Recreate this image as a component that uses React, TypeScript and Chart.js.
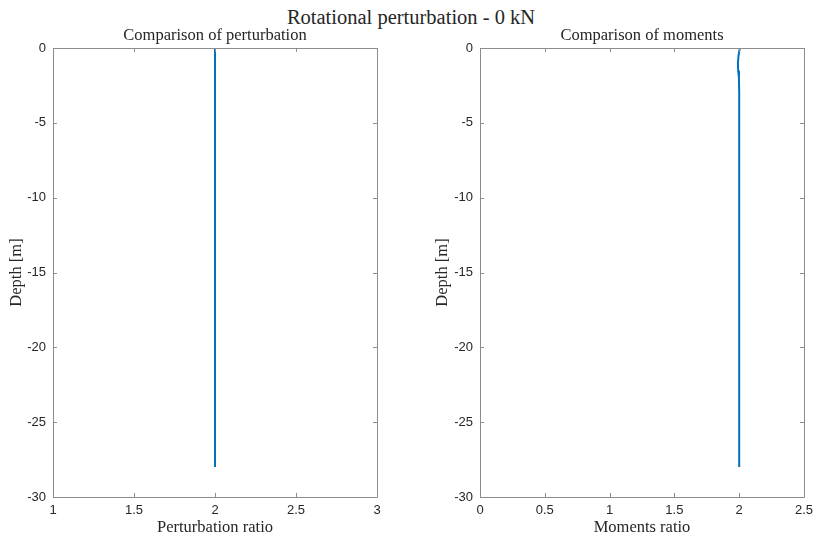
import React, { useEffect, useRef } from "react";
import { Chart, registerables } from "chart.js";

Chart.register(...registerables);

// Depth stations along the pile [m]
const depthPerturbation = [0, -4, -8, -12, -16, -20, -24, -28];
const perturbationRatio = [2, 2, 2, 2, 2, 2, 2, 2];

const depthMoments = [0, -0.5, -1, -1.5, -2, -3, -4, -6, -8, -12, -16, -20, -24, -28];
const momentsRatio = [2.005, 1.995, 1.99, 1.992, 1.998, 2.0, 2.0, 2.0, 2.0, 2.0, 2.0, 2.0, 2.0, 2.0];

const depthTicks = [0, -5, -10, -15, -20, -25, -30];
const perturbationTicks = [1, 1.5, 2, 2.5, 3];
const momentsTicks = [0, 0.5, 1, 1.5, 2, 2.5];

const SERIF = "'Liberation Serif', 'DejaVu Serif', serif";
const SANS = "'Liberation Sans', Arial, sans-serif";
const AXIS_COLOR = "#8c8c8c";
const TEXT_COLOR = "#262626";
const LINE_COLOR = "#0072BD";

// Box around the axes with inward-pointing tick marks on all four sides
const boxTicksPlugin = {
  id: "boxTicks",
  afterDatasetsDraw(chart: any) {
    const { ctx, chartArea } = chart;
    const { left, right, top, bottom } = chartArea;
    const len = 4;
    ctx.save();
    ctx.strokeStyle = AXIS_COLOR;
    ctx.lineWidth = 1;
    ctx.beginPath();
    ctx.rect(Math.round(left) + 0.5, Math.round(top) + 0.5, Math.round(right - left), Math.round(bottom - top));
    const xs = chart.scales.x;
    xs.ticks.forEach((t: any) => {
      const px = Math.round(xs.getPixelForValue(t.value)) + 0.5;
      ctx.moveTo(px, bottom);
      ctx.lineTo(px, bottom - len);
      ctx.moveTo(px, top);
      ctx.lineTo(px, top + len);
    });
    const ys = chart.scales.y;
    ys.ticks.forEach((t: any) => {
      const py = Math.round(ys.getPixelForValue(t.value)) + 0.5;
      ctx.moveTo(left, py);
      ctx.lineTo(left + len, py);
      ctx.moveTo(right, py);
      ctx.lineTo(right - len, py);
    });
    ctx.stroke();
    ctx.restore();
  },
};

type PanelProps = {
  title: string;
  xLabel: string;
  depth: number[];
  values: number[];
  xTicks: number[];
  yAxisWidth: number;
  yTitlePad: number;
  rightPad: number;
};

function Panel({ title, xLabel, depth, values, xTicks, yAxisWidth, yTitlePad, rightPad }: PanelProps) {
  const ref = useRef<HTMLCanvasElement | null>(null);

  useEffect(() => {
    if (!ref.current) return;
    const chart = new Chart(ref.current, {
      type: "line",
      data: {
        datasets: [
          {
            data: depth.map((d, i) => ({ x: values[i], y: d })),
            borderColor: LINE_COLOR,
            borderWidth: 2,
            pointRadius: 0,
            fill: false,
            tension: 0,
          },
        ],
      },
      options: {
        animation: false,
        responsive: false,
        maintainAspectRatio: false,
        layout: { padding: { top: 26.2, right: rightPad, bottom: 0, left: 0 } },
        plugins: {
          legend: { display: false },
          tooltip: { enabled: false },
          title: {
            display: true,
            text: title,
            fullSize: false,
            color: TEXT_COLOR,
            font: { family: SERIF, size: 16.5, weight: "normal", lineHeight: 1.2 },
            padding: { top: 0, bottom: 2 },
          },
        },
        scales: {
          x: {
            type: "linear",
            min: xTicks[0],
            max: xTicks[xTicks.length - 1],
            afterBuildTicks: (s: any) => {
              s.ticks = xTicks.map((v) => ({ value: v }));
            },
            afterFit: (s: any) => {
              s.height = 39;
              s.paddingLeft = 0;
              s.paddingRight = 0;
            },
            grid: { display: false, drawTicks: false },
            border: { display: false },
            ticks: {
              color: TEXT_COLOR,
              font: { family: SANS, size: 13 },
              padding: 6,
              maxRotation: 0,
              autoSkip: false,
              callback: (v: any) => String(v),
            },
            title: {
              display: true,
              text: xLabel,
              color: TEXT_COLOR,
              font: { family: SERIF, size: 16.5, lineHeight: 1.0 },
              padding: 0,
            },
          },
          y: {
            type: "linear",
            min: -30,
            max: 0,
            afterBuildTicks: (s: any) => {
              s.ticks = depthTicks.map((v) => ({ value: v }));
            },
            afterFit: (s: any) => {
              s.width = yAxisWidth;
              s.paddingTop = 0;
              s.paddingBottom = 0;
            },
            grid: { display: false, drawTicks: false },
            border: { display: false },
            ticks: {
              color: TEXT_COLOR,
              font: { family: SANS, size: 13 },
              padding: 7,
              autoSkip: false,
              callback: (v: any) => String(v),
            },
            title: {
              display: true,
              text: "Depth [m]",
              color: TEXT_COLOR,
              font: { family: SERIF, size: 16.5, lineHeight: 1.0 },
              padding: { top: yTitlePad, bottom: 0 },
            },
          },
        },
      },
      plugins: [boxTicksPlugin],
    } as any);
    return () => chart.destroy();
  }, []);

  return <canvas ref={ref} width={408} height={536} style={{ display: "block", width: 408, height: 536 }} />;
}

export default function App() {
  return (
    <div style={{ position: "absolute", left: 0, top: 0, width: 816, height: 536, background: "#fff" }}>
      <div
        style={{
          position: "absolute",
          left: 3,
          top: 5,
          width: 816,
          textAlign: "center",
          fontFamily: SERIF,
          fontSize: 20.5,
          color: TEXT_COLOR,
          lineHeight: "24px",
        }}
      >
        Rotational perturbation - 0 kN
      </div>
      <div style={{ position: "absolute", left: 0, top: 0 }}>
        <Panel
          title="Comparison of perturbation"
          xLabel="Perturbation ratio"
          depth={depthPerturbation}
          values={perturbationRatio}
          xTicks={perturbationTicks}
          yAxisWidth={53}
          yTitlePad={8.75}
          rightPad={31}
        />
      </div>
      <div style={{ position: "absolute", left: 408, top: 0 }}>
        <Panel
          title="Comparison of moments"
          xLabel="Moments ratio"
          depth={depthMoments}
          values={momentsRatio}
          xTicks={momentsTicks}
          yAxisWidth={72}
          yTitlePad={26.75}
          rightPad={12}
        />
      </div>
    </div>
  );
}
